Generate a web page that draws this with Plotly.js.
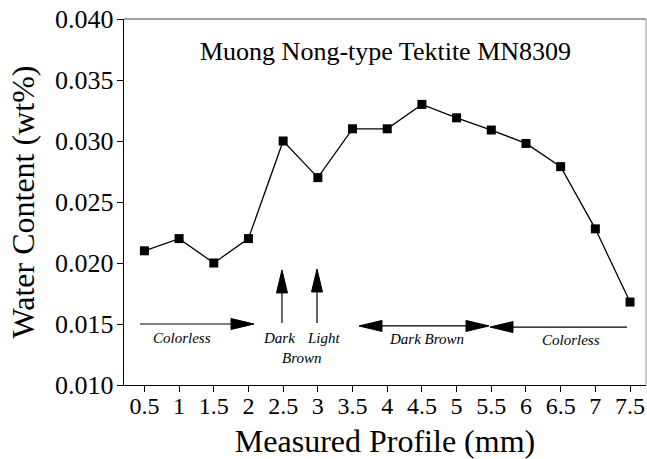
<!DOCTYPE html>
<html>
<head>
<meta charset="utf-8">
<script src="https://cdn.plot.ly/plotly-3.0.1.min.js"></script>
<style>html,body{margin:0;padding:0;background:#fff;}#chart{width:647px;height:459px;}</style>
</head>
<body>
<div id="chart"></div>
<script>
const profileMM = [0.5, 1, 1.5, 2, 2.5, 3, 3.5, 4, 4.5, 5, 5.5, 6, 6.5, 7, 7.5];
const waterContent = [0.0210, 0.0220, 0.0200, 0.0220, 0.0300, 0.0270, 0.0310, 0.0310, 0.0330, 0.0319, 0.0309, 0.0298, 0.0279, 0.0228, 0.0168];
const xTickVals = [0.5, 1, 1.5, 2, 2.5, 3, 3.5, 4, 4.5, 5, 5.5, 6, 6.5, 7, 7.5];
const xTickText = ['0.5', '1', '1.5', '2', '2.5', '3', '3.5', '4', '4.5', '5', '5.5', '6', '6.5', '7', '7.5'];
const yTickVals = [0.010, 0.015, 0.020, 0.025, 0.030, 0.035, 0.040];
const yTickText = ['0.010', '0.015', '0.020', '0.025', '0.030', '0.035', '0.040'];
const chartTitle = 'Muong Nong-type Tektite MN8309';

const serif = '"Liberation Serif", "Times New Roman", Times, serif';

const xRange = [0.206, 7.73];
const yRange = [0.010, 0.040];
const margin = {l: 124, r: 1, t: 19, b: 74};
const W = 647, H = 459;
const sx = (W - margin.l - margin.r) / (xRange[1] - xRange[0]);
const sy = (H - margin.t - margin.b) / (yRange[1] - yRange[0]);

const trace = {
  x: profileMM,
  y: waterContent,
  type: 'scatter',
  mode: 'lines+markers',
  line: {color: '#000', width: 1.3},
  marker: {symbol: 'square', size: 9, color: '#000'},
  hoverinfo: 'x+y',
  showlegend: false
};

function label(text, x, y) {
  return {text: '<i>' + text + '</i>', x: x, y: y, xref: 'x', yref: 'y', showarrow: false,
          font: {family: serif, size: 15, color: '#000'}, xanchor: 'center', yanchor: 'middle'};
}

// arrow built from a line and narrow filled triangle heads (head length / half width in px)
const HEAD_L = 23, HEAD_W = 5.5;
function head(tx, ty, fx, fy) {
  const dxp = (tx - fx) * sx, dyp = (ty - fy) * sy;
  const len = Math.hypot(dxp, dyp);
  const ux = dxp / len, uy = dyp / len;
  const bx = tx - HEAD_L * ux / sx, by = ty - HEAD_L * uy / sy;
  const nx = -uy, ny = ux;
  const c1x = bx + HEAD_W * nx / sx, c1y = by + HEAD_W * ny / sy;
  const c2x = bx - HEAD_W * nx / sx, c2y = by - HEAD_W * ny / sy;
  return {
    tri: {type: 'path', xref: 'x', yref: 'y',
          path: `M ${tx},${ty} L ${c1x},${c1y} L ${c2x},${c2y} Z`,
          fillcolor: '#000', line: {color: '#000', width: 1}},
    base: [bx, by]
  };
}
function arrowShapes(x0, y0, x1, y1, both) {
  const out = [];
  const h1 = head(x1, y1, x0, y0);
  out.push(h1.tri);
  let start = [x0, y0];
  if (both) {
    const h0 = head(x0, y0, x1, y1);
    out.push(h0.tri);
    start = h0.base;
  }
  out.push({type: 'line', xref: 'x', yref: 'y', x0: start[0], y0: start[1], x1: h1.base[0], y1: h1.base[1],
            line: {color: '#000', width: 1.2}});
  return out;
}

const shapes = [
  {type: 'line', xref: 'paper', yref: 'paper', x0: 0, x1: 1, y0: 1, y1: 1, line: {color: '#444', width: 1}},
  {type: 'line', xref: 'paper', yref: 'paper', x0: 1, x1: 1, y0: 0, y1: 1, line: {color: '#999', width: 1}}
].concat(
  arrowShapes(0.437, 0.0150, 2.08, 0.0150),
  arrowShapes(2.483, 0.01508, 2.483, 0.01943),
  arrowShapes(2.988, 0.01508, 2.988, 0.01951),
  arrowShapes(3.593, 0.01484, 5.467, 0.01484, true),
  arrowShapes(7.456, 0.01475, 5.481, 0.01475)
);

const layout = {
  width: W, height: H,
  margin: margin,
  paper_bgcolor: '#fff', plot_bgcolor: '#fff',
  font: {family: serif, color: '#000'},
  xaxis: {
    range: xRange, tickvals: xTickVals, ticktext: xTickText,
    ticks: 'outside', ticklen: 6, tickwidth: 1, tickcolor: '#000',
    ticklabelstandoff: -7,
    showline: true, linecolor: '#000', linewidth: 1.3, showgrid: false, zeroline: false,
    tickfont: {family: serif, size: 24, color: '#000'},
    title: {text: 'Measured Profile (mm)', font: {family: serif, size: 32, color: '#000'}, standoff: 24}
  },
  yaxis: {
    range: yRange, tickvals: yTickVals, ticktext: yTickText,
    ticks: 'outside', ticklen: 6, tickwidth: 1, tickcolor: '#000',
    ticklabelstandoff: -2,
    showline: true, linecolor: '#000', linewidth: 1.3, showgrid: false, zeroline: false,
    tickfont: {family: serif, size: 26, color: '#000'},
    title: {text: 'Water Content (wt%)', font: {family: serif, size: 32, color: '#000'}, standoff: 10}
  },
  shapes: shapes,
  annotations: [
    {text: chartTitle, x: 3.98, y: 0.0373, xref: 'x', yref: 'y', showarrow: false,
     font: {family: serif, size: 26, color: '#000'}, xanchor: 'center', yanchor: 'middle'},
    label('Colorless', 1.035, 0.01385),
    label('Dark', 2.44, 0.01385),
    label('Light', 3.09, 0.01385),
    label('Brown', 2.77, 0.01221),
    label('Dark Brown', 4.559, 0.01377),
    label('Colorless', 6.65, 0.01369)
  ]
};

Plotly.newPlot('chart', [trace], layout, {displayModeBar: false, staticPlot: true});
</script>
</body>
</html>
